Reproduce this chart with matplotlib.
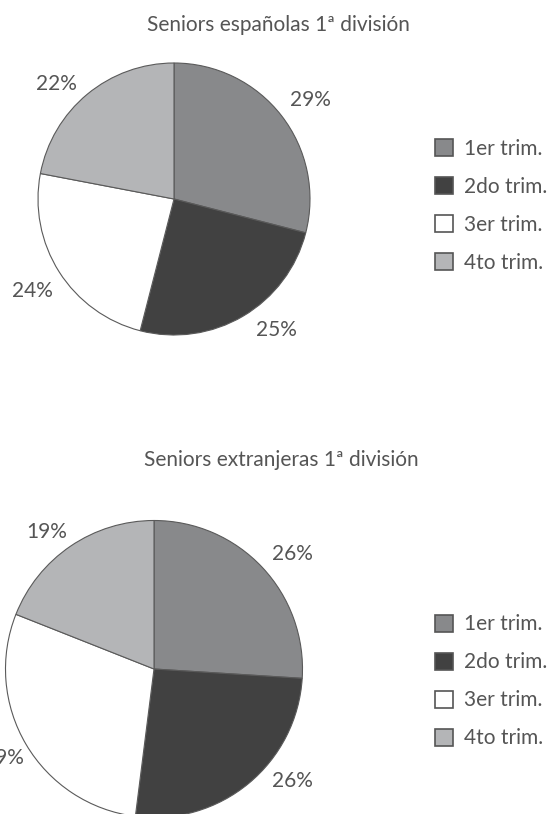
import numpy as np
import matplotlib.pyplot as plt

# datos
trimestres = ["1er trim.", "2do trim.", "3er trim.", "4to trim."]
espanolas = [29, 25, 24, 22]
extranjeras = [26, 26, 29, 19]
titulos = ["Seniors españolas 1ª división", "Seniors extranjeras 1ª división"]

colores = ["#88898b", "#414141", "#ffffff", "#b4b5b7"]
gris_texto = "#555555"
plt.rcParams["font.family"] = ["Lato", "DejaVu Sans"]

W, H = 547, 814
fig = plt.figure(figsize=(W / 100, H / 100), dpi=100)
fig.patch.set_facecolor("white")


def tarta(valores, cx, cy, r, titulo, ty, leg_top, giro, dist):
    # axes cuadrado que encierra justo el círculo (coordenadas en píxeles)
    ax = fig.add_axes([(cx - r) / W, (H - cy - r) / H, 2 * r / W, 2 * r / H])
    wedges, _, pct = ax.pie(valores, colors=colores, startangle=90, counterclock=False,
                            autopct="%d%%", pctdistance=1.24, radius=1,
                            wedgeprops=dict(edgecolor="#5a5a5a", linewidth=0.8))
    # etiquetas colocadas como en el original ("ajuste óptimo" de Excel)
    for w, t, g, d in zip(wedges, pct, giro, dist):
        ang = np.deg2rad((w.theta1 + w.theta2) / 2 + g)
        t.set_position((d * np.cos(ang), d * np.sin(ang)))
        t.set_color(gris_texto)
        t.set_fontsize(15)
    ax.set_xlim(-1, 1)
    ax.set_ylim(-1, 1)
    ax.axis("off")
    fig.text(ty[0] / W, 1 - ty[1] / H, titulo, ha="center", va="center",
             fontsize=15, color=gris_texto)
    leg = fig.legend(wedges, trimestres, loc="upper left",
                     bbox_to_anchor=(435 / W, 1 - leg_top / H), frameon=False,
                     fontsize=15, handlelength=0.88, handleheight=0.88,
                     handletextpad=0.5, labelspacing=0.86, borderpad=0,
                     borderaxespad=0)
    for t in leg.get_texts():
        t.set_color(gris_texto)
    for h in leg.legend_handles:
        h.set_edgecolor("#555555")
        h.set_linewidth(1.2)


tarta(espanolas, 174, 199, 136, titulos[0], (278, 25), 139,
      [-2, 7.5, 0.5, 6], [1.24, 1.22, 1.24, 1.21])
tarta(extranjeras, 154, 669, 148.5, titulos[1], (281, 460), 614.5,
      [-3.5, 11.5, 0, 4], [1.21, 1.2, 1.18, 1.17])

fig.savefig("out.png", dpi=100)
